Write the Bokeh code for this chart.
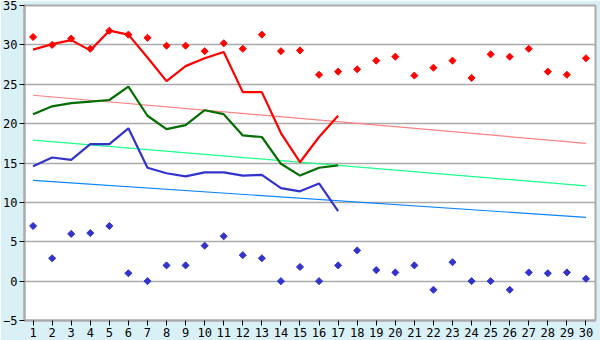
import math
from bokeh.plotting import figure
from bokeh.models import FixedTicker, Range1d
from bokeh.embed import file_html
from bokeh.resources import INLINE

days = list(range(1, 31))
days17 = list(range(1, 18))

tmax = [29.4, 30.1, 30.6, 29.3, 31.8, 31.3, 28.4, 25.4, 27.3, 28.3, 29.1, 24.0, 24.0, 18.8, 15.1, 18.3, 21.0]
tmean = [21.2, 22.2, 22.6, 22.8, 23.0, 24.7, 21.0, 19.3, 19.8, 21.7, 21.2, 18.5, 18.3, 14.9, 13.4, 14.4, 14.7]
tmin = [14.6, 15.7, 15.4, 17.4, 17.4, 19.4, 14.4, 13.7, 13.3, 13.8, 13.8, 13.4, 13.5, 11.8, 11.4, 12.4, 8.9]

rec_max = [31.0, 30.0, 30.8, 29.5, 31.8, 31.3, 30.9, 29.9, 29.9, 29.2, 30.2, 29.5, 31.3, 29.2, 29.3,
           26.2, 26.6, 26.9, 28.0, 28.5, 26.1, 27.1, 28.0, 25.8, 28.8, 28.5, 29.5, 26.6, 26.2, 28.3]
rec_min = [7.0, 2.9, 6.0, 6.1, 7.0, 1.0, 0.0, 2.0, 2.0, 4.5, 5.7, 3.3, 2.9, 0.0, 1.8,
           0.0, 2.0, 3.9, 1.4, 1.1, 2.0, -1.1, 2.4, 0.0, 0.0, -1.1, 1.1, 1.0, 1.1, 0.3]

norm_days = [1, 30]
norm_max = [23.6, 17.5]
norm_mean = [17.9, 12.1]
norm_min = [12.8, 8.1]

y_ticks = [-5, 0, 5, 10, 15, 20, 25, 30, 35]

p = figure(width=600, height=340, output_backend="svg", toolbar_location=None,
           x_range=Range1d(0.55, 30.5), y_range=Range1d(-5, 35))
p.min_border_left = 21
p.min_border_right = 5
p.min_border_top = 5
p.min_border_bottom = 20
p.border_fill_color = "#d9f0f7"
p.background_fill_color = "white"
p.outline_line_color = "#aaaaaa"
p.outline_line_width = 2

font = "DejaVu Sans Mono"
for ax in (p.xaxis[0], p.yaxis[0]):
    ax.axis_line_color = "#aaaaaa"
    ax.axis_line_width = 2
    ax.major_tick_line_color = "black"
    ax.major_tick_out = 5
    ax.major_tick_in = 0
    ax.minor_tick_line_color = None
    ax.major_label_text_font = font
    ax.major_label_text_font_size = "12px"
    ax.major_label_text_color = "black"
    ax.major_label_standoff = 2
p.xaxis.ticker = FixedTicker(ticks=days)
p.yaxis.ticker = FixedTicker(ticks=y_ticks)
p.xgrid.grid_line_color = None
p.ygrid.grid_line_color = "#aaaaaa"
p.ygrid.grid_line_width = 1.5
p.ygrid.ticker = FixedTicker(ticks=y_ticks)

p.line(norm_days, norm_max, line_color="#ff8080", line_width=1.2)
p.line(norm_days, norm_mean, line_color="#1aff8c", line_width=1.2)
p.line(norm_days, norm_min, line_color="#0a84ff", line_width=1.2)

p.line(days17, tmax, line_color="#ff0000", line_width=2.2)
p.line(days17, tmean, line_color="#006f00", line_width=2.2)
p.line(days17, tmin, line_color="#3333cc", line_width=2.2)

p.scatter(days, rec_max, marker="square", angle=math.pi / 4, size=5,
          fill_color="#ff0000", line_color="#ff0000", line_width=1)
p.scatter(days, rec_min, marker="square", angle=math.pi / 4, size=5,
          fill_color="#3333cc", line_color="#3333cc", line_width=1)

open("out.html", "w").write(file_html(p, INLINE))
